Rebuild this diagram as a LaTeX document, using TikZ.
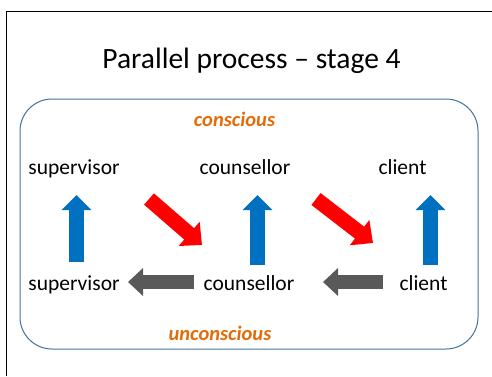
\documentclass[tikz,border=0pt]{standalone}
\usepackage{fontspec}
\setmainfont{Carlito}
\usetikzlibrary{arrows.meta}
\definecolor{frameblue}{HTML}{41719C}
\definecolor{upblue}{HTML}{0070C0}
\definecolor{pushred}{HTML}{FF0000}
\definecolor{backgrey}{HTML}{595959}
\definecolor{labelorange}{HTML}{E36C09}
\tikzset{
  word/.style={anchor=base, inner sep=0pt, font=\fontsize{21.5}{25}\selectfont},
  layer/.style={word, text=labelorange, font=\fontsize{20.5}{24}\selectfont\bfseries\itshape},
  uparrow/.style={draw=upblue, line width=15pt,
    -{Triangle[width=29pt,length=15pt]}, upblue},
  crossarrow/.style={draw=pushred, line width=15pt,
    -{Triangle[width=31pt,length=17pt]}, pushred},
  backarrow/.style={draw=backgrey, line width=13.5pt,
    -{Triangle[width=27pt,length=15pt]}, backgrey}
}
\begin{document}
\begin{tikzpicture}[x=1pt,y=-1pt]
  \useasboundingbox (0,0) rectangle (492,376);
  % slide frame (only top and left edges visible)
  \draw[line width=0.8pt, black] (6,376) -- (6,11) -- (492,11);
  % title
  \node[word, font=\fontsize{29.5}{34}\selectfont] (title) at (251.5,68) {Parallel process – stage 4};
  % rounded container
  \draw[frameblue, line width=1pt, rounded corners=32pt] (20,99) rectangle (478,349);
  % layer labels
  \node[layer] (conscious) at (234.5,126.7) {conscious};
  \node[layer] (unconscious) at (220,340) {unconscious};
  % conscious row
  \node[word] (supTop) at (74,174) {supervisor};
  \node[word] (couTop) at (245,174) {counsellor};
  \node[word] (cliTop) at (402.5,174) {client};
  % unconscious row
  \node[word] (supBot) at (74,290) {supervisor};
  \node[word] (couBot) at (249,290) {counsellor};
  \node[word] (cliBot) at (423.5,290) {client};
  % arrow end points
  \coordinate (supUpS) at (76.5,262);
  \coordinate (supUpE) at (76.5,195);
  \coordinate (couUpS) at (257.5,265);
  \coordinate (couUpE) at (257.5,195);
  \coordinate (cliUpS) at (430.5,265);
  \coordinate (cliUpE) at (430.5,195);
  \coordinate (redAS) at (149,199);
  \coordinate (redAE) at (202,245);
  \coordinate (redBS) at (316,199);
  \coordinate (redBE) at (373,243);
  \coordinate (greyAS) at (194,282);
  \coordinate (greyAE) at (128,282);
  \coordinate (greyBS) at (383,282);
  \coordinate (greyBE) at (323,282);
  % rising arrows
  \draw[uparrow] (supUpS) -- (supUpE);
  \draw[uparrow] (couUpS) -- (couUpE);
  \draw[uparrow] (cliUpS) -- (cliUpE);
  % diagonal arrows
  \draw[crossarrow] (redAS) -- (redAE);
  \draw[crossarrow] (redBS) -- (redBE);
  % backward arrows
  \draw[backarrow] (greyAS) -- (greyAE);
  \draw[backarrow] (greyBS) -- (greyBE);
\end{tikzpicture}
\end{document}
